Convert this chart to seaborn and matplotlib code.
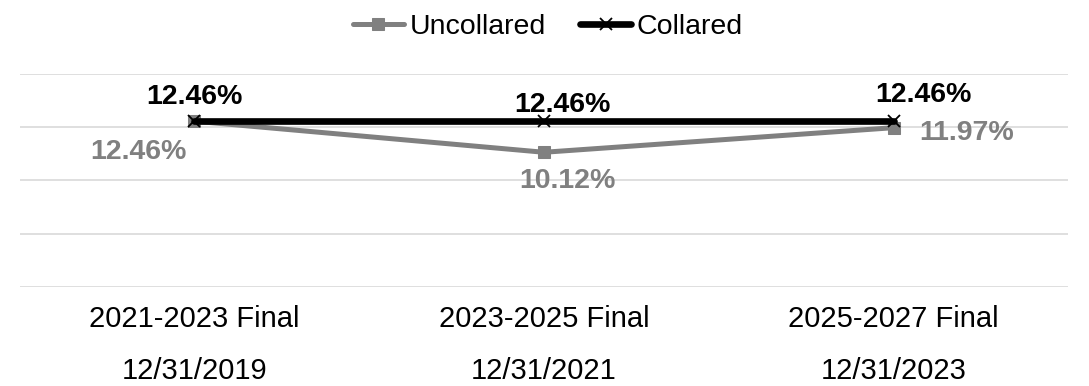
import numpy as np
import pandas as pd
import matplotlib
matplotlib.use('Agg')
import matplotlib.pyplot as plt
import seaborn as sns

# chart data
periods = ['2021-2023 Final', '2023-2025 Final', '2025-2027 Final']
dates = ['12/31/2019', '12/31/2021', '12/31/2023']
uncollared = [12.46, 10.12, 11.97]
collared = [12.46, 12.46, 12.46]

sns.set_style('white')
plt.rcParams['font.family'] = ['Liberation Sans', 'DejaVu Sans']
plt.rcParams['text.color'] = 'black'
plt.rcParams['xtick.color'] = 'black'

df = pd.DataFrame({
    'x': list(range(3)) * 2,
    'rate': uncollared + collared,
    'series': ['Uncollared'] * 3 + ['Collared'] * 3,
})

fig, ax = plt.subplots(figsize=(10.89, 3.86), dpi=100)
fig.subplots_adjust(left=0.018, right=0.981, bottom=0.257, top=0.808)

GRAY = '#808080'
sns.lineplot(data=df[df.series == 'Uncollared'], x='x', y='rate', ax=ax,
             color=GRAY, linewidth=3.6, marker='s', markersize=8,
             markeredgecolor=GRAY, label='Uncollared', zorder=3)
sns.lineplot(data=df[df.series == 'Collared'], x='x', y='rate', ax=ax,
             color='black', linewidth=4.8, marker='x', markersize=8,
             markeredgewidth=1.3, markeredgecolor='black', label='Collared', zorder=4)

ax.set_xlim(-0.5, 2.5)
ax.set_ylim(0, 16)
ax.set_yticks([0, 4, 8, 12, 16])
ax.yaxis.grid(True, color='#d9d9d9', linewidth=1.2)
ax.set_yticklabels([])
ax.set_xticks(range(3))
ax.set_xticklabels([f'{p}\n{d}' for p, d in zip(periods, dates)],
                   fontsize=21, linespacing=2.1, color='black')
ax.tick_params(axis='x', length=0, pad=13)
ax.tick_params(axis='y', length=0)
ax.set_xlabel('')
ax.set_ylabel('')
sns.despine(ax=ax, left=True, bottom=True)

# data labels (pixel offsets from each point)
c_off = [(0, 17), (18, 9), (30, 19)]
u_off = [(-56, -38), (23, -36), (73, -12)]
for i in range(3):
    ax.annotate(f'{collared[i]:.2f}%', (i, collared[i]), xytext=c_off[i],
                textcoords='offset pixels', ha='center', va='baseline',
                fontsize=20.5, fontweight='bold', color='black')
    ax.annotate(f'{uncollared[i]:.2f}%', (i, uncollared[i]), xytext=u_off[i],
                textcoords='offset pixels', ha='center', va='baseline',
                fontsize=20.5, fontweight='bold', color=GRAY)

handles, labels = ax.get_legend_handles_labels()
ax.legend(handles, labels, loc='upper center', bbox_to_anchor=(0.503, 1.0),
          bbox_transform=fig.transFigure, ncol=2, frameon=False, fontsize=20.5,
          handlelength=1.8, handletextpad=0.2, columnspacing=1.2,
          borderaxespad=0.1)

plt.savefig('out.png', dpi=100)
